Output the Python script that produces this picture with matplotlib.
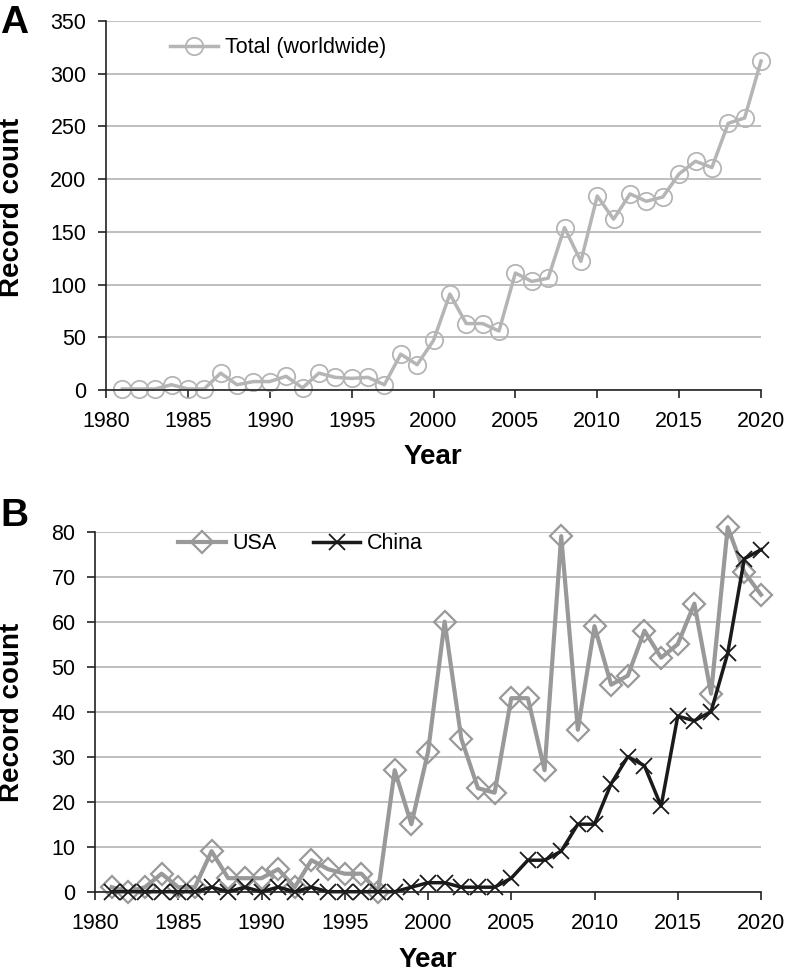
import matplotlib
matplotlib.use('Agg')
import matplotlib.pyplot as plt

plt.rcParams['font.family'] = ['Liberation Sans', 'DejaVu Sans']

years = list(range(1981, 2021))

total = [1, 1, 1, 5, 1, 1, 16, 5, 8, 8,
         13, 2, 16, 12, 11, 12, 5, 34, 24, 47,
         91, 63, 63, 56, 111, 103, 106, 154, 122, 184,
         162, 186, 179, 183, 205, 217, 211, 253, 258, 312]

usa = [1, 0, 1, 4, 1, 1, 9, 3, 3, 3,
       5, 1, 7, 5, 4, 4, 0, 27, 15, 31,
       60, 34, 23, 22, 43, 43, 27, 79, 36, 59,
       46, 48, 58, 52, 55, 64, 44, 81, 71, 66]

china = [0, 0, 0, 0, 0, 0, 1, 0, 1, 0,
         1, 0, 1, 0, 0, 0, 0, 0, 1, 2,
         2, 1, 1, 1, 3, 7, 7, 9, 15, 15,
         24, 30, 28, 19, 39, 38, 40, 53, 74, 76]

x_ticks = [1980, 1985, 1990, 1995, 2000, 2005, 2010, 2015, 2020]

W, H = 787, 973
fig = plt.figure(figsize=(W / 100, H / 100), dpi=100)

axA = fig.add_axes([106 / W, 1 - 390 / H, 655 / W, 369 / H])
axB = fig.add_axes([95 / W, 1 - 891.7 / H, 666 / W, 360 / H])


def style(ax, ymax, ystep):
    ax.set_xlim(1980, 2020)
    ax.set_ylim(0, ymax)
    ax.set_xticks(x_ticks)
    ax.set_yticks(range(0, ymax + 1, ystep))
    ax.grid(axis='y', color='#b4b4b4', linewidth=1.2)
    ax.set_axisbelow(True)
    for s in ['top', 'right']:
        ax.spines[s].set_visible(False)
    for s in ['left', 'bottom']:
        ax.spines[s].set_linewidth(1.2)
        ax.spines[s].set_color('#222222')
    ax.tick_params(direction='out', length=6, width=1.2, color='#222222',
                   labelsize=15.5, pad=8)
    ax.tick_params(axis='x', pad=9)


# Panel A
style(axA, 350, 50)
axA.plot(years, total, color='#b5b5b5', linewidth=2.5, marker='o',
         markersize=12.5, markerfacecolor='none', markeredgecolor='#b5b5b5',
         markeredgewidth=1.3, label='Total (worldwide)', clip_on=False)
axA.legend(loc='center left', bbox_to_anchor=(0.098, 0.927), frameon=False,
           fontsize=15.5, borderpad=0, borderaxespad=0, handlelength=2.2,
           handletextpad=0.35)

# Panel B
style(axB, 80, 10)
axB.plot(years, usa, color='#999999', linewidth=3, marker='D',
         markersize=11.5, markerfacecolor='none', markeredgecolor='#999999',
         markeredgewidth=1.6, label='USA', clip_on=False)
axB.plot(years, china, color='#1a1a1a', linewidth=2.5, marker='x',
         markersize=11.5, markeredgewidth=1.3, label='China', clip_on=False)
axB.legend(loc='center left', bbox_to_anchor=(0.125, 0.966), frameon=False,
           fontsize=15.5, ncol=2, borderpad=0, borderaxespad=0,
           handlelength=2.2, handletextpad=0.3, columnspacing=1.7)

# labels
for yc in [207, 712]:
    fig.text(12 / W, 1 - yc / H, 'Record count', rotation=90, ha='center',
             va='center', fontsize=20, fontweight='bold')
fig.text(433 / W, 1 - 457 / H, 'Year', ha='center', va='center',
         fontsize=20, fontweight='bold')
fig.text(428 / W, 1 - 960 / H, 'Year', ha='center', va='center',
         fontsize=20, fontweight='bold')
fig.text(0, 1 - 5 / H, 'A', ha='left', va='top', fontsize=28,
         fontweight='bold')
fig.text(0, 1 - 498 / H, 'B', ha='left', va='top', fontsize=28,
         fontweight='bold')

fig.savefig('out.png', dpi=100)
